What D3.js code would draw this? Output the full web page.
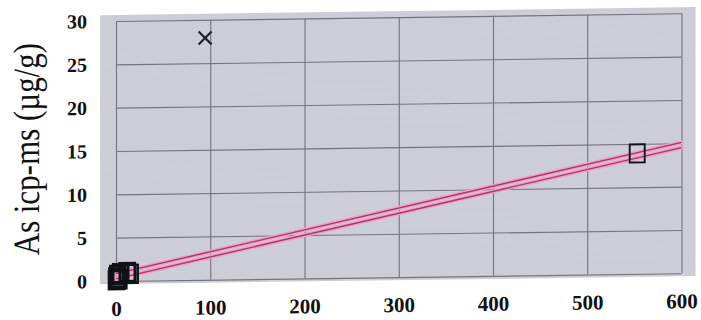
<!DOCTYPE html>
<html>
<head>
<meta charset="utf-8">
<script src="https://cdn.jsdelivr.net/npm/d3@7"></script>
<style>
  html, body { margin: 0; padding: 0; background: #ffffff; }
  svg { display: block; }
</style>
</head>
<body>
<svg id="chart" width="701" height="320"></svg>
<script>
// ---- data ----
const xTicks = [0, 100, 200, 300, 400, 500, 600];
const yTicks = [0, 5, 10, 15, 20, 25, 30];
const squareX = [0.5, 1, 2, 3, 5, 12, 15, 553];
const squareY = [0.1, 0.4, 0.7, 0.2, 0.9, 1.0, 0.8, 13.9];
const crossX = [94.5];
const crossY = [27.9];
const fitX = [0, 600];
const fitUpper = [0.85, 15.1];
const fitLower = [0.25, 14.5];
const yTitle = "As icp-ms (µg/g)";

// ---- layout ----
const svg = d3.select("#chart");
const x = d3.scaleLinear().domain([0, 600]).range([116, 681.5]);
const y = d3.scaleLinear().domain([0, 30]).range([281, 21]);

const g = svg.append("g")
  .attr("transform", "translate(116,281) skewY(-0.78) translate(-116,-281)");

// plot background
g.append("rect")
  .attr("x", x(0) - 16).attr("y", y(30) - 6)
  .attr("width", x(600) - x(0) + 30).attr("height", y(0) - y(30) + 9)
  .attr("fill", "#cccdd6");

// faint texture lines
const minorY = d3.range(0, 30.01, 1);
g.append("g").selectAll("line").data(minorY).join("line")
  .attr("x1", x(0) - 16).attr("x2", x(600) + 14)
  .attr("y1", d => y(d)).attr("y2", d => y(d))
  .attr("stroke", "#d2d3db").attr("stroke-width", 0.6);

// x axis with grid
const xAxis = g.append("g")
  .attr("transform", `translate(0,${y(0)})`)
  .call(d3.axisBottom(x).tickValues(xTicks).tickSize(-(y(0) - y(30))).tickPadding(20).tickFormat(d3.format("d")));
xAxis.select(".domain").remove();
xAxis.selectAll(".tick line").attr("stroke", "#72737f").attr("stroke-width", 1.1);
xAxis.selectAll(".tick text")
  .attr("fill", "#111")
  .attr("font-family", "'Liberation Serif', 'Times New Roman', serif")
  .attr("font-weight", "bold")
  .attr("font-size", 21);

// y axis with grid
const yAxis = g.append("g")
  .attr("transform", `translate(${x(0)},0)`)
  .call(d3.axisLeft(y).tickValues(yTicks).tickSize(-(x(600) - x(0))).tickPadding(29).tickFormat(d3.format("d")));
yAxis.select(".domain").remove();
yAxis.selectAll(".tick line").attr("stroke", "#72737f").attr("stroke-width", 1.1);
yAxis.selectAll(".tick text")
  .attr("fill", "#111")
  .attr("font-family", "'Liberation Serif', 'Times New Roman', serif")
  .attr("font-weight", "bold")
  .attr("font-size", 20);

// y title
g.append("g")
  .attr("transform", "translate(39,148) scale(1.2,1)")
  .append("text")
  .attr("transform", "rotate(-90)")
  .attr("text-anchor", "middle")
  .attr("font-family", "'Liberation Serif', 'Times New Roman', serif")
  .attr("font-size", 31)
  .attr("fill", "#111")
  .text(yTitle);

// fit lines
const fits = [fitUpper, fitLower];
const lineGen = d3.line().x(d => x(d[0])).y(d => y(d[1]));
fits.forEach(f => {
  g.append("path").datum(fitX.map((v, i) => [v, f[i]]))
    .attr("d", lineGen).attr("fill", "none")
    .attr("stroke", "#eaa3c6").attr("stroke-width", 4.2).attr("stroke-linecap", "round");
});
fits.forEach(f => {
  g.append("path").datum(fitX.map((v, i) => [v, f[i]]))
    .attr("d", lineGen).attr("fill", "none")
    .attr("stroke", "#b2306e").attr("stroke-width", 1.4);
});

// squares
const sw = 15, sh = 18;
g.append("g").selectAll("rect").data(squareX.map((v, i) => [v, squareY[i]])).join("rect")
  .attr("x", d => x(d[0]) - sw / 2).attr("y", d => y(d[1]) - sh / 2)
  .attr("width", sw).attr("height", sh)
  .attr("fill", "none").attr("stroke", "#111118")
  .attr("stroke-width", d => d[0] < 50 ? 2.6 : 1.9);

// crosses
const cs = 6.5;
const crossG = g.append("g").selectAll("g").data(crossX.map((v, i) => [v, crossY[i]])).join("g")
  .attr("transform", d => `translate(${x(d[0])},${y(d[1])})`);
crossG.append("line").attr("x1", -cs).attr("y1", -cs).attr("x2", cs).attr("y2", cs)
  .attr("stroke", "#222").attr("stroke-width", 2.2);
crossG.append("line").attr("x1", -cs).attr("y1", cs).attr("x2", cs).attr("y2", -cs)
  .attr("stroke", "#222").attr("stroke-width", 2.2);
</script>
</body>
</html>
